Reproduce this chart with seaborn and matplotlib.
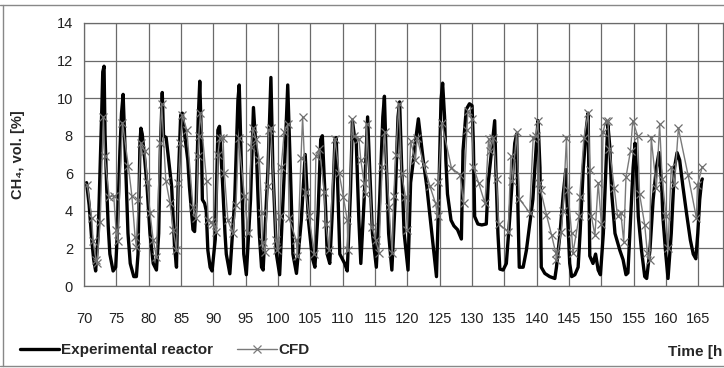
import matplotlib
matplotlib.use("Agg")
import matplotlib.pyplot as plt
from matplotlib.lines import Line2D
import seaborn as sns
import pandas as pd

# ---------------- data ----------------
exp_time = [70.4, 70.8, 71.2, 71.5, 71.8, 72.2, 72.5, 72.75, 72.9, 73.1, 73.25, 73.5, 73.75, 74.0, 74.5, 74.9,
            75.15, 75.55, 75.8, 76.05, 76.3, 76.55, 76.8, 77.15, 77.7, 78.1, 78.35, 78.5, 78.65, 78.8, 79.0, 79.4,
            79.75, 80.2, 80.7, 81.2, 81.55, 81.8, 82.1, 82.3, 82.7, 83.55, 84.0, 84.3, 84.55, 84.95, 85.2, 85.55,
            86.05, 86.3, 86.85, 87.1, 87.35, 87.65, 87.9, 88.15, 88.3, 88.65, 88.9, 89.15, 89.5, 89.8, 90.3, 90.7,
            90.95, 91.45, 91.8, 92.0, 92.55, 93.3, 93.8, 94.0, 94.35, 94.7, 95.1, 95.75, 96.2, 96.7, 97.1, 97.45,
            97.7, 98.45, 98.9, 99.2, 99.75, 100.25, 101.0, 101.5, 101.9, 102.3, 102.85, 103.6, 104.2, 104.7, 105.3,
            105.7, 106.2, 106.6, 106.85, 107.35, 107.6, 108.0, 108.4, 108.8, 109.0, 109.3, 109.55, 110.3, 110.7,
            111.2, 111.5, 111.8, 112.1, 112.5, 112.8, 113.3, 113.85, 114.2, 114.6, 115.2, 115.7, 116.2, 116.45,
            116.75, 117.1, 117.6, 118.1, 118.55, 118.8, 119.1, 119.5, 120.1, 120.5, 121.0, 121.4, 121.7, 122.0,
            122.45, 123.0, 123.5, 124.0, 124.5, 124.9, 125.2, 125.45, 125.75, 125.95, 126.2, 126.75, 127.2, 127.75,
            128.35, 128.6, 129.1, 129.6, 130.0, 130.2, 130.4, 130.9, 131.5, 132.2, 132.5, 133.2, 133.5, 133.7,
            134.0, 134.3, 134.8, 135.3, 135.8, 136.35, 136.6, 136.9, 137.1, 137.3, 137.9, 138.4, 139.4, 139.95,
            140.2, 140.5, 140.7, 141.25, 142.0, 142.8, 143.05, 143.6, 144.1, 144.5, 144.8, 145.1, 145.4, 145.9,
            146.4, 146.7, 147.2, 147.7, 147.95, 148.05, 148.2, 148.7, 149.1, 149.5, 149.85, 150.3, 150.8, 151.0,
            151.3, 151.6, 152.1, 152.85, 153.35, 153.8, 154.1, 154.4, 154.9, 155.2, 155.45, 155.7, 156.2, 156.7,
            157.0, 157.5, 158.0, 158.5, 158.9, 159.3, 159.5, 159.95, 160.3, 160.8, 161.3, 161.7, 162.1, 162.6,
            163.15, 163.75, 164.2, 164.6, 164.9, 165.2, 165.5, 165.6]
exp_ch4 = [5.5, 4.3, 2.45, 1.4, 0.8, 2.8, 6.3, 9.4, 11.4, 11.7, 8.1, 5.3, 3.15, 1.7, 0.8, 1.0,
           2.8, 7.2, 9.2, 10.2, 7.8, 5.3, 2.8, 1.2, 0.5, 0.5, 1.7, 4.6, 7.6, 8.4, 8.1, 6.7,
           5.3, 2.8, 1.2, 0.85, 2.8, 7.2, 10.3, 8.0, 7.9, 5.3, 2.1, 1.0, 5.3, 9.1, 9.2, 8.1,
           6.7, 5.3, 3.0, 2.9, 4.5, 8.8, 10.9, 7.8, 4.6, 4.4, 4.0, 1.9, 1.0, 0.8, 2.5, 8.3,
           8.5, 5.3, 2.8, 1.7, 0.65, 4.6, 9.9, 10.7, 6.3, 1.7, 0.6, 4.6, 9.5, 6.7, 2.8, 1.0,
           0.85, 6.3, 11.1, 6.3, 1.7, 0.6, 6.3, 10.7, 6.3, 1.7, 0.67, 3.5, 7.0, 3.5, 1.5,
           1.0, 4.0, 7.8, 8.0, 4.2, 1.7, 1.2, 4.0, 7.8, 7.9, 4.6, 1.7, 1.2, 0.8,
           5.0, 8.8, 8.0, 7.6, 3.5, 1.2, 4.5, 9.0, 6.0, 2.8, 1.0, 4.5, 9.0, 10.1,
           6.5, 2.8, 0.85, 4.5, 9.0, 9.8, 6.5, 2.8, 0.85, 5.5, 6.9, 8.1, 8.9, 8.0,
           6.7, 5.3, 3.7, 2.1, 0.5, 5.5, 9.9, 10.8, 9.0, 6.7, 4.9, 3.5, 3.2, 3.0,
           2.5, 7.2, 9.4, 9.7, 9.6, 7.6, 3.7, 3.3, 3.25, 3.3, 5.5, 7.8, 8.8, 6.0,
           2.8, 0.9, 0.85, 1.2, 3.5, 6.3, 7.6, 8.1, 4.0, 1.0, 1.0, 1.9, 4.6, 7.6,
           8.8, 6.3, 1.0, 0.67, 0.5, 0.4, 1.0, 2.8, 4.9, 6.2, 3.5, 1.2, 0.5, 0.6,
           1.0, 2.8, 6.3, 8.5, 9.2, 6.0, 1.6, 1.2, 1.7, 0.85, 0.6, 2.8, 7.2, 8.6,
           7.4, 4.9, 2.8, 1.9, 1.4, 0.6, 0.7, 2.8, 6.3, 7.6, 6.0, 3.7, 1.9, 0.5,
           0.4, 1.9, 4.6, 6.3, 7.1, 5.5, 3.7, 1.7, 0.4, 2.8, 6.3, 7.1, 6.7, 5.3,
           3.9, 2.45, 1.7, 1.45, 2.8, 4.6, 5.6, 5.7]

cfd_time = [70.5, 71.2, 71.4, 71.85, 72.0, 72.5, 73.0, 73.2, 73.9, 74.6, 74.95, 75.2, 75.95, 76.85, 77.4,
            77.9, 78.1, 78.4, 78.75, 79.4, 79.8, 80.2, 80.7, 81.2, 81.75, 82.0, 82.65, 83.3, 83.8, 84.3, 84.6,
            84.9, 85.2, 85.9, 86.85, 87.35, 87.6, 87.75, 88.0, 88.95, 89.2, 89.6, 90.0, 90.45, 90.7, 91.0, 91.5,
            91.7, 92.25, 93.0, 93.5, 93.9, 94.8, 95.35, 95.85, 96.1, 96.6, 97.1, 97.5, 97.6, 98.0, 98.4, 98.55,
            98.9, 99.7, 99.9, 100.3, 100.5, 100.95, 101.5, 101.7, 102.8, 103.0, 103.55, 103.8, 104.3, 104.8,
            105.6, 105.85, 106.4, 107.15, 107.4, 107.9, 108.8, 109.45, 110.1, 110.7, 110.8, 111.5, 111.7, 112.5,
            112.8, 113.3, 113.55, 113.7, 114.55, 115.1, 115.6, 116.1, 116.5, 117.15, 117.65, 117.9, 118.2, 118.7,
            119.1, 119.7, 120.0, 120.5, 121.25, 121.5, 122.5, 123.5, 124.35, 124.7, 124.8, 125.3, 126.8, 128.15,
            128.7, 129.2, 129.35, 130.0, 130.2, 131.0, 132.0, 132.55, 132.8, 133.3, 133.8, 134.1, 135.6, 136.0,
            136.25, 136.9, 137.3, 138.9, 139.45, 139.85, 140.2, 140.4, 140.6, 141.5, 142.3, 142.95, 143.05,
            143.8, 144.05, 144.6, 144.8, 145.4, 145.6, 146.55, 146.65, 147.3, 147.95, 148.2, 148.45, 149.0,
            149.5, 150.0, 150.25, 150.7, 151.0, 151.25, 152.0, 152.5, 153.0, 153.45, 153.8, 154.5, 154.85,
            155.6, 155.9, 156.7, 157.1, 157.45, 157.7, 158.5, 159.0, 159.4, 160.0, 160.3, 160.8, 161.3, 161.9,
            163.4, 164.7, 164.85, 165.6]
cfd_ch4 = [5.4, 3.6, 2.4, 1.4, 1.2, 3.4, 9.0, 6.9, 4.75, 4.8, 3.0, 2.4, 8.7, 6.4, 4.8,
           2.6, 2.1, 4.6, 7.6, 7.2, 5.55, 3.9, 2.45, 1.55, 7.6, 9.7, 5.6, 4.4, 3.0, 1.9, 5.5,
           7.6, 9.1, 8.3, 4.2, 3.6, 6.9, 8.0, 9.2, 5.6, 3.5, 3.4, 3.3, 2.9, 7.0, 7.9, 7.9,
           6.0, 3.5, 2.8, 4.3, 7.9, 4.8, 2.8, 7.4, 8.4, 7.8, 6.7, 3.9, 2.35, 1.8, 5.3, 8.3,
           8.4, 2.45, 1.9, 3.7, 6.35, 8.2, 8.6, 3.6, 2.45, 1.6, 6.8, 9.0, 5.0, 3.7,
           1.7, 6.9, 7.3, 5.0, 3.3, 1.9, 7.85, 6.0, 4.75, 3.5, 1.9, 8.9, 8.0, 7.85,
           6.7, 5.5, 4.9, 8.6, 3.15, 2.45, 1.75, 6.35, 8.2, 4.2, 1.75, 4.8, 7.0, 9.7,
           6.0, 4.75, 3.0, 7.7, 6.7, 7.9, 6.5, 5.3, 4.4, 3.7, 5.55, 8.7, 6.3, 5.9,
           4.4, 8.3, 9.3, 8.9, 6.35, 5.5, 4.4, 7.8, 7.2, 7.9, 5.7, 3.3, 2.9, 6.9,
           5.6, 8.2, 4.65, 3.9, 7.9, 8.0, 8.8, 5.5, 5.1, 3.8, 2.7, 1.75, 1.4,
           2.9, 4.0, 7.9, 5.1, 2.8, 1.75, 3.7, 4.75, 7.9, 9.2, 6.2, 3.7, 2.7,
           5.5, 3.3, 8.2, 8.8, 8.8, 7.3, 5.2, 3.7, 3.9, 2.35, 5.8, 7.2, 8.8,
           8.0, 4.9, 3.25, 1.75, 1.4, 7.9, 5.2, 8.6, 5.7, 3.7, 2.0, 6.35, 5.4, 8.4,
           5.9, 3.6, 5.4, 6.35]

x_ticks = list(range(70, 170, 5))
y_ticks = list(range(0, 16, 2))
series_names = ["Experimental reactor", "CFD"]
y_label = "CH\u2084, vol. [%]"
x_label = "Time [h"

# ---------------- style ----------------
sns.set_theme(style="white")
fonts = ["Liberation Sans", "DejaVu Sans"]
plt.rcParams["font.family"] = fonts

W, H = 724, 368
fig = plt.figure(figsize=(W / 100, H / 100), dpi=100)
ax = fig.add_axes([84 / W, 1 - 286 / H, (723 - 84) / W, (286 - 23) / H])

exp_df = pd.DataFrame({"t": exp_time, "v": exp_ch4})
cfd_df = pd.DataFrame({"t": cfd_time, "v": cfd_ch4})

sns.lineplot(data=exp_df, x="t", y="v", ax=ax, color="black", linewidth=2.4,
             sort=False, estimator=None, zorder=3, solid_joinstyle="round")
sns.lineplot(data=cfd_df, x="t", y="v", ax=ax, color="#7a7a7a", linewidth=1.0,
             marker="x", markersize=6, markeredgewidth=0.9, markeredgecolor="#6e6e6e",
             sort=False, estimator=None, zorder=4)

ax.set_xlim(70, 168.8)
ax.set_ylim(0, 14)
ax.set_xticks(x_ticks)
ax.set_yticks(y_ticks)
ax.set_xticklabels([str(t) for t in x_ticks], fontsize=10.5, color="#222222")
ax.set_yticklabels([str(t) for t in y_ticks], fontsize=10.5, color="#222222")
ax.tick_params(axis="x", direction="out", length=6, width=0.8, color="#666666", pad=13)
ax.tick_params(axis="y", direction="out", length=5, width=0.8, color="#666666", pad=3)
ax.set_xlabel("")
ax.set_ylabel("")
ax.grid(True, color="#6a6a6a", linewidth=0.9)
ax.set_axisbelow(True)
for sp in ax.spines.values():
    sp.set_color("#6a6a6a")
    sp.set_linewidth(0.9)

fig.text(18 / W, 1 - 155 / H, y_label, rotation=90, ha="center", va="center",
         fontsize=10.5, fontweight="bold")
fig.text(668 / W, 1 - 352 / H, x_label, ha="left", va="center",
         fontsize=11, fontweight="bold")

handles = [Line2D([], [], color="black", linewidth=2.4),
           Line2D([], [], color="#7a7a7a", linewidth=1.0, marker="x", markersize=6,
                  markeredgewidth=0.9)]
fig.legend(handles, series_names, loc="center left", bbox_to_anchor=(6 / W, 1 - 350 / H),
           ncol=2, frameon=False, handlelength=2.6, handletextpad=0.1, columnspacing=1.6,
           prop={"weight": "bold", "size": 11})

# outer chart frame
fig.add_artist(Line2D([0, 1], [1 - 5 / H, 1 - 5 / H], transform=fig.transFigure, color="#888888", lw=1))
fig.add_artist(Line2D([2.5 / W, 2.5 / W], [1 - 5 / H, 1 - 366 / H], transform=fig.transFigure, color="#888888", lw=1))
fig.add_artist(Line2D([0, 1], [1 - 366 / H, 1 - 366 / H], transform=fig.transFigure, color="#888888", lw=1))

fig.savefig("out.png", dpi=100, facecolor="white")
